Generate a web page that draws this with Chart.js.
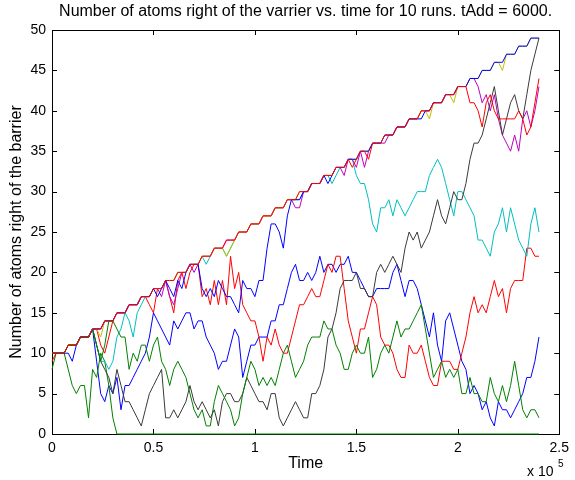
<!DOCTYPE html>
<html>
<head>
<meta charset="utf-8">
<script src="https://cdn.jsdelivr.net/npm/chart.js@4.4.1/dist/chart.umd.min.js"></script>
<style>
  html, body { margin: 0; padding: 0; background: #fff; }
  #wrap { width: 575px; height: 480px; position: relative; }
</style>
</head>
<body>
<div id="wrap"><canvas id="myChart"></canvas></div>
<script>
// time samples, in thousands
const timesK = [
    0,2,4,6,8,10,12,14,16,18,20,22,24,26,28,30,32,34,36,38,
    40,42,44,46,48,50,52,54,56,58,60,62,64,66,68,70,72,74,76,78,
    80,82,84,86,88,90,92,94,96,98,100,102,104,106,108,110,112,114,116,118,
    120,122,124,126,128,130,132,134,136,138,140,142,144,146,148,150,152,154,156,158,
    160,162,164,166,168,170,172,174,176,178,180,182,184,186,188,190,192,194,196,198,
    200,202,204,206,208,210,212,214,216,218,220,222,224,226,228,230,232,234,236,238,
    240];

// atoms right of the barrier, one array per run
const run1 = [10,
    10,10,10, 11,11,11, 12,12,12, 13,9,5, 4,6,5, 7,3,6, 6,7,8, 9,10,12, 15,14,13, 12,11,14,
    13,14,15, 15,13,14, 14,12,11, 10,8,9, 9,11,13, 12,7,9, 11,11,12, 12,12,14, 14,16,16, 18,20,21,
    19,19,20, 19,20,22, 20,21,21, 20,21,21, 22,20,20, 19,18,17, 17,18,18, 18,18,20, 21,19,17, 19,19,18,
    16,14,12, 15,11,9, 14,15,13, 11,9,8, 5,6,5, 3,4,2, 1,4,3, 3,2,3, 4,5,7, 7,9,12];
const run2 = [8,
    10,10,10, 8,6,5, 6,6,2, 8,7,10, 9,6,2, 0,0,0, 0,0,0, 0,0,0, 0,0,0, 0,0,0,
    0,0,0, 0,0,0, 0,0,0, 0,0,0, 0,0,0, 0,0,0, 0,0,0, 0,0,0, 0,0,0, 0,0,0,
    0,0,0, 0,0,0, 0,0,0, 0,0,0, 0,0,0, 0,0,0, 0,0,0, 0,0,0, 0,0,0, 0,0,0,
    0,0,0, 0,0,0, 0,0,0, 0,0,0, 0,0,0, 0,0,0, 0,0,0, 0,0,0, 0,0,0, 0,0,0];
const run3 = [9,
    10,10,10, 11,11,11, 12,12,12, 13,13,11, 10,12,14, 15,15,15, 16,16,16, 17,17,16, 15,18,18, 19,17,15,
    19,20,18, 20,21,21, 17,18,16, 19,16,19, 16,22,18, 20,16,15, 14,14,12, 9,12,11, 13,11,10, 10,12,14,
    16,16,17, 18,17,17, 19,21,20, 22,22,18, 14,12,10, 13,13,15, 17,16,12, 11,11,10, 8,7,7, 11,10,10,
    11,9,7, 6,6,9, 9,9,8, 8,10,12, 15,17,15, 16,15,17, 19,17,18, 15,18,19, 19,19,23, 23,22,22];
const run4 = [10,
    10,10,10, 11,11,11, 12,12,12, 13,11,9, 9,8,9, 12,13,15, 14,12,15, 16,17,17, 18,18,18, 19,19,19,
    20,20,20, 21,21,21, 22,21,22, 23,23,23, 22,23,24, 25,25,25, 26,26,26, 27,27,27, 28,28,28, 29,29,29,
    29,30,30, 31,31,31, 32,32,31, 32,33,33, 34,34,32, 31,31,29, 26,25,28, 28,29,27, 29,28,27, 28,29,30,
    30,30,32, 33,34,33, 31,29,27, 30,30,29, 28,27,24, 24,23,22, 25,26,28, 25,28,26, 24,23,22, 26,28,25];
const run5 = [10,
    10,10,10, 11,11,11, 12,12,12, 13,13,13, 14,14,14, 15,15,15, 16,16,16, 17,17,17, 18,18,17, 19,17,16,
    18,20,20, 21,20,21, 22,22,22, 23,23,23, 24,24,24, 25,25,25, 26,26,26, 27,27,27, 28,28,28, 29,29,28,
    28,30,30, 31,31,31, 32,32,32, 33,33,32, 34,34,33, 35,33,35, 36,36,36, 36,37,37, 38,38,38, 39,39,39,
    40,40,40, 41,41,41, 42,42,42, 43,43,43, 44,44,43, 41,42,40, 42,39,37, 36,35,37, 35,39,40, 38,40,43];
const run6 = [10,
    10,10,10, 11,11,11, 12,12,12, 13,13,12, 14,14,14, 15,15,15, 16,16,16, 17,17,17, 18,18,18, 19,19,19,
    20,20,20, 21,21,21, 22,22,22, 23,23,23, 22,23,24, 25,25,25, 26,26,26, 27,27,27, 28,28,28, 29,29,29,
    30,30,30, 31,31,31, 32,32,32, 33,33,33, 34,34,34, 35,35,35, 36,36,36, 37,37,37, 38,38,38, 39,39,39,
    40,40,39, 41,41,41, 42,42,41, 43,43,43, 44,44,44, 45,45,45, 46,46,45, 47,47,47, 48,48,48, 49,49,49];
const run7 = [10,
    10,10,10, 11,11,11, 12,12,12, 13,11,9, 8,7,5, 8,6,4, 4,3,2, 1,3,5, 6,7,8, 2,2,3,
    2,3,4, 6,4,3, 4,3,2, 3,1,4, 5,5,4, 4,5,7, 6,5,4, 4,3,5, 5,2,1, 2,3,4,
    3,2,2, 5,5,6, 8,12,13, 15,18,19, 19,19,20, 18,18,17, 17,20,21, 20,21,22, 21,20,23, 25,24,25,
    23,24,25, 27,29,27, 26,28,30, 29,29,31, 34,36,36, 37,39,41, 43,40,37, 39,41,42, 40,39,42, 45,47,49];
const run8 = [10,
    10,10,10, 10,9,11, 12,12,12, 13,13,13, 14,14,14, 15,15,15, 16,16,16, 17,17,17, 18,17,18, 19,18,17,
    19,18,20, 21,21,21, 18,17,18, 17,19,18, 17,17,16, 15,19,18, 18,17,19, 19,23,26, 26,25,23, 27,29,29,
    29,30,30, 31,31,31, 32,31,32, 33,33,33, 34,34,34, 35,35,35, 36,36,36, 37,37,37, 38,38,38, 39,39,39,
    39,40,40, 41,41,41, 42,42,42, 43,43,43, 44,44,44, 45,45,45, 46,46,46, 47,47,47, 48,48,48, 49,49,49];
const run9 = [10,
    10,10,10, 11,11,11, 12,12,12, 13,11,9, 11,14,14, 13,12,12, 8,10,9, 11,11,9, 11,12,9, 8,6,8,
    9,8,7, 5,3,2, 3,1,1, 4,6,5, 4,3,1, 2,5,7, 9,8,6, 7,6,7, 6,8,10, 11,9,7,
    8,9,11, 12,12,12, 14,13,13, 11,10,8, 8,10,11, 10,10,12, 7,8,10, 11,10,12, 14,12,13, 13,14,15,
    16,13,10, 7,8,9, 7,8,7, 8,5,5, 7,5,5, 4,4,7, 5,4,6, 4,6,9, 6,3,2, 3,3,2];
const run10 = [10,
    10,10,10, 11,11,11, 12,12,12, 13,13,13, 14,14,14, 15,15,15, 16,16,16, 17,17,17, 18,18,18, 19,19,19,
    20,20,20, 21,21,21, 22,22,22, 23,23,23, 24,24,24, 25,25,25, 26,26,26, 27,27,27, 28,28,28, 29,29,29,
    30,30,30, 31,31,31, 32,32,32, 33,33,33, 34,33,34, 35,35,34, 36,36,36, 37,37,37, 38,38,38, 39,39,39,
    40,40,40, 41,41,41, 42,42,42, 43,43,43, 41,41,40, 38,41,42, 40,39,39, 39,39,39, 40,39,37, 38,41,44];

const runs = [run1, run2, run3, run4, run5, run6, run7, run8, run9, run10];
const runColors = ["#0000ff", "#008000", "#ff0000", "#00bfbf", "#bf00bf", "#bfbf00", "#3a3a3a", "#0000ff", "#008000", "#ff0000"];
const titleText = "Number of atoms right of the varrier vs. time for 10 runs. tAdd = 6000.";

const FONT = '"Liberation Sans", Arial, Helvetica, sans-serif';
Chart.defaults.font.family = FONT;
Chart.defaults.color = "#000";

// matlab-ish box with inward ticks (under the lines), title over the axes, x 10^5 multiplier
const frame = {
    id: "frame",
    beforeDatasetsDraw(chart) {
        const { ctx, chartArea: a, scales } = chart;
        const x = scales.x, y = scales.y;
        ctx.save();
        ctx.strokeStyle = "#000";
        ctx.lineWidth = 1;
        ctx.strokeRect(Math.round(a.left) + 0.5, Math.round(a.top) + 0.5,
            Math.round(a.right - a.left), Math.round(a.bottom - a.top));
        ctx.beginPath();
        x.ticks.forEach((t) => {
            const px = Math.round(x.getPixelForValue(t.value)) + 0.5;
            ctx.moveTo(px, a.bottom); ctx.lineTo(px, a.bottom - 5);
            ctx.moveTo(px, a.top); ctx.lineTo(px, a.top + 5);
        });
        y.ticks.forEach((t) => {
            const py = Math.round(y.getPixelForValue(t.value)) + 0.5;
            ctx.moveTo(a.left, py); ctx.lineTo(a.left + 5, py);
            ctx.moveTo(a.right, py); ctx.lineTo(a.right - 5, py);
        });
        ctx.stroke();
        ctx.restore();
    },
    afterDraw(chart) {
        const { ctx, chartArea: a } = chart;
        ctx.save();
        ctx.fillStyle = "#000";
        ctx.textAlign = "center";
        ctx.textBaseline = "middle";
        ctx.font = "16px " + FONT;
        ctx.fillText(titleText, (a.left + a.right) / 2, 12);
        ctx.textAlign = "left";
        ctx.textBaseline = "alphabetic";
        ctx.font = "14px " + FONT;
        ctx.fillText("x 10", 527, 476);
        ctx.font = "10px " + FONT;
        ctx.fillText("5", 558, 467);
        ctx.restore();
    },
};

const ctx = document.getElementById("myChart").getContext("2d");
const myChart = new Chart(ctx, {
    type: "line",
    data: {
        datasets: runs.map((r, k) => ({
            label: "run " + (k + 1),
            data: r.map((v, i) => ({ x: timesK[i] * 1000, y: v })),
            borderColor: runColors[k],
            backgroundColor: runColors[k],
            borderWidth: 1,
            pointRadius: 0,
            tension: 0,
            fill: false,
            clip: false,
            order: -k,
        })),
    },
    options: {
        responsive: true,
        maintainAspectRatio: false,
        animation: false,
        layout: { padding: { left: 0, right: 12, top: 30, bottom: 0 } },
        plugins: {
            legend: { display: false },
            tooltip: { enabled: false },
            title: { display: false },
        },
        scales: {
            x: {
                type: "linear",
                min: 0,
                max: 250000,
                grid: { display: false, drawTicks: false },
                border: { display: false },
                ticks: {
                    stepSize: 50000,
                    padding: 6,
                    maxRotation: 0,
                    font: { size: 14 },
                    callback: (v) => String(v / 100000),
                },
                title: { display: true, text: "Time", font: { size: 16 }, padding: { top: 0, bottom: 7 } },
                afterFit: (scale) => { scale.height = 46; },
            },
            y: {
                min: 0,
                max: 50,
                grid: { display: false, drawTicks: false },
                border: { display: false },
                ticks: { stepSize: 5, padding: 6, font: { size: 14 } },
                title: { display: true, text: "Number of atoms right of the barrier", font: { size: 16 }, padding: { top: 7, bottom: 0 } },
                afterFit: (scale) => { scale.width = 52; },
            },
        },
    },
    plugins: [frame],
});
</script>
</body>
</html>
